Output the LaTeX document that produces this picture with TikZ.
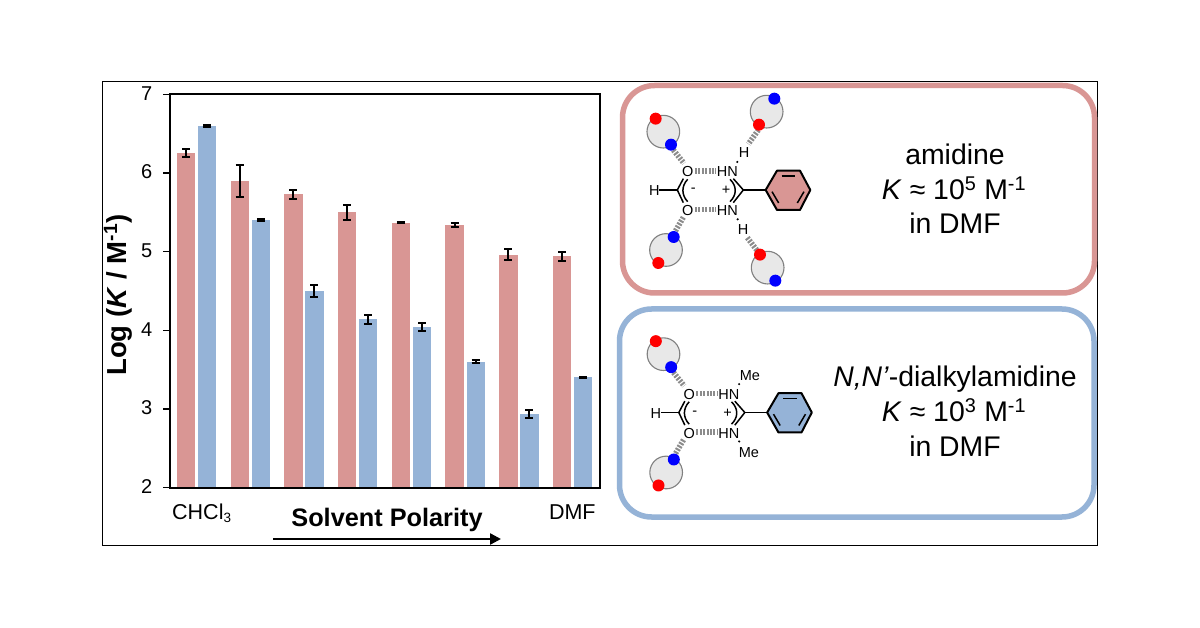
\documentclass[tikz,border=0pt]{standalone}
\usepackage{fontspec}
\setmainfont{Liberation Sans}
\usetikzlibrary{arrows.meta}
\definecolor{barred}{HTML}{D99694}
\definecolor{barblue}{HTML}{95B3D7}
\definecolor{ringgray}{HTML}{E8E8E8}
\definecolor{ringedge}{HTML}{808080}
\definecolor{hashgray}{HTML}{8C8C8C}
\tikzset{
  axisline/.style={black,line width=2pt},
  tickline/.style={black,line width=1.2pt},
  errbar/.style={black,line width=2pt},
  redbar/.style={fill=barred,draw=none},
  bluebar/.style={fill=barblue,draw=none},
  ticklabel/.style={font=\fontsize{20}{20}\selectfont,anchor=east,inner sep=0pt},
  panelbox/.style={line width=5.5pt,rounded corners=32pt,fill=white},
  paneltext/.style={font=\fontsize{28.4}{30}\selectfont,inner sep=0pt,anchor=base},
  atom/.style={font=\fontsize{14.5}{14.5}\selectfont,inner sep=0pt},
  hashbond/.style={hashgray,line width=5.5pt,dash pattern=on 2pt off 1.4pt},
  skel/.style={black,line width=1.5pt},
  ring/.style={fill=ringgray,draw=ringedge,line width=1.1pt},
  reddot/.style={fill=red,draw=none},
  bluedot/.style={fill=blue,draw=none},
}
% x-left, value, err, style
\newcommand{\onebar}[4]{%
  \pgfmathsetmacro{\ytop}{487.5-78.6*(#2-2)}%
  \pgfmathsetmacro{\yup}{487.5-78.6*(#2+#3-2)}%
  \pgfmathsetmacro{\ydn}{487.5-78.6*(#2-#3-2)}%
  \pgfmathsetmacro{\xmid}{#1+9.2}%
  \fill[#4] (#1,\ytop) rectangle ({#1+18.4},487.5);
  \draw[errbar] (\xmid,\yup) -- (\xmid,\ydn);
  \draw[errbar] (\xmid-4,\yup) -- (\xmid+4,\yup);
  \draw[errbar] (\xmid-4,\ydn) -- (\xmid+4,\ydn);
}
% common core of a complex (zoom coordinates), #1 = ring colour
\newcommand{\core}[1]{%
  \draw[hashbond] (225,273) -- (288,273);
  \draw[hashbond] (225,388) -- (288,388);
  \node[atom] at (203,275) {O};
  \node[atom] at (203,392) {O};
  \node[atom] at (322,275) {HN};
  \node[atom] at (322,392) {HN};
  \node[atom] at (103,332) {H};
  \node[atom] at (220,332) {-};
  \node[atom] at (318,332) {+};
  \draw[skel] (118,330) -- (172,330);
  \draw[skel] (190,296) -- (172,330) -- (190,368);
  \draw[skel] (203,298) .. controls (184,318) and (184,345) .. (203,365);
  \draw[skel] (340,296) -- (370,330) -- (340,368);
  \draw[skel] (330,298) .. controls (351,318) and (351,345) .. (330,365);
  \draw[skel] (370,330) -- (437,330);
  \draw[black,line width=2pt,fill=#1,line join=round] (437,330) -- (471,272) -- (540,272) -- (571,330) -- (540,390) -- (471,390) -- cycle;
  \draw[black,line width=1.5pt] (485,288) -- (526,288);
  \draw[black,line width=1.5pt] (456,335) -- (476,369);
  \draw[black,line width=1.5pt] (552,335) -- (532,369);
}
% host ring: centre x, centre y, upper dot style, x offset of upper dot, lower dot style
\newcommand{\host}[5]{%
  \draw[ring] (#1,#2) circle[radius=49];
  \fill[#3] (#1+#4,#2-39) circle[radius=18];
  \fill[#5] (#1-#4,#2+39) circle[radius=18];
}
\begin{document}
\begin{tikzpicture}[x=1pt,y=-1pt]
\useasboundingbox (0,0) rectangle (1200,628);
\fill[white] (0,0) rectangle (1200,628);
\draw[black,line width=1pt] (102.5,82) rectangle (1097.5,545);
% bars
\onebar{177}{6.26}{.05}{redbar}
\onebar{197.8}{6.6}{.015}{bluebar}
\onebar{230.5}{5.9}{.2}{redbar}
\onebar{251.6}{5.4}{.01}{bluebar}
\onebar{284.2}{5.73}{.06}{redbar}
\onebar{305.2}{4.5}{.08}{bluebar}
\onebar{338}{5.5}{.1}{redbar}
\onebar{359}{4.14}{.06}{bluebar}
\onebar{391.7}{5.37}{.01}{redbar}
\onebar{412.8}{4.04}{.05}{bluebar}
\onebar{445.4}{5.34}{.03}{redbar}
\onebar{466.5}{3.6}{.02}{bluebar}
\onebar{499.2}{4.96}{.07}{redbar}
\onebar{520.2}{2.93}{.05}{bluebar}
\onebar{553}{4.94}{.06}{redbar}
\onebar{574}{3.4}{.01}{bluebar}
% axes
\draw[axisline] (170,94.5) rectangle (599.7,487.5);
\foreach \v/\yy in {7/94.5,6/173.1,5/251.7,4/330.3,3/408.9,2/487.5}{
  \draw[tickline] (163,\yy) -- (170,\yy);
  \node[ticklabel] (tick\v) at (152.5,\yy-1) {\v};
}
\node[font=\bfseries\fontsize{27.5}{27.5}\selectfont,rotate=90,inner sep=0pt] (ylab) at (118,295) {Log (\textit{K} / M\textsuperscript{-1})};
\node[font=\fontsize{21.5}{21.5}\selectfont,inner sep=0pt,anchor=base west] (chcl) at (172,519.5) {CHCl\raisebox{-3pt}{\fontsize{13.5}{13.5}\selectfont 3}};
\node[font=\fontsize{21.5}{21.5}\selectfont,inner sep=0pt,anchor=base] (dmf) at (572.3,519.5) {DMF};
\node[font=\bfseries\fontsize{25.3}{25.3}\selectfont,inner sep=0pt,anchor=base] (polar) at (387,526.5) {Solvent Polarity};
\coordinate (arrA) at (273,539);
\coordinate (arrB) at (501,539);
\draw[black,line width=2.4pt,-{Triangle[length=11pt,width=11pt]}] (arrA) -- (arrB);
% panels
\draw[barred,panelbox] (622.5,85.5) rectangle (1094.5,293);
\draw[barblue,panelbox] (619.5,309) rectangle (1094,517);
% top complex
\begin{scope}[shift={(620,80)},x=.3333pt,y=-.3333pt]
  \core{barred}
  \draw[hashbond] (160,210) -- (192,250);
  \draw[hashbond] (190,412) -- (165,455);
  \draw[hashbond] (415,150) -- (385,192);
  \draw[hashbond] (382,473) -- (410,510);
  \node[atom] at (372,218) {H};
  \node[atom] at (369,450) {H};
  \fill (352,246) circle[radius=3.5];
  \fill (353,418) circle[radius=3.5];
  \host{130}{155}{reddot}{-23}{bluedot}
  \host{440}{95}{bluedot}{23}{reddot}
  \host{138}{510}{bluedot}{23}{reddot}
  \host{443}{563}{reddot}{-23}{bluedot}
\end{scope}
% bottom complex
\begin{scope}[shift={(621.5,302.5)},x=.3333pt,y=-.3333pt]
  \core{barblue}
  \draw[hashbond] (156,210) -- (188,250);
  \draw[hashbond] (186,412) -- (161,455);
  \node[atom] at (385,219) {Me};
  \node[atom] at (382,451) {Me};
  \fill (353,245) circle[radius=3.5];
  \fill (353,417) circle[radius=3.5];
  \host{126}{155}{reddot}{-23}{bluedot}
  \host{134}{510}{bluedot}{23}{reddot}
\end{scope}
% captions
\node[paneltext] (a1) at (955,165) {amidine};
\node[paneltext] (a2) at (954,200) {\textit{K} ≈ 10\textsuperscript{5} M\textsuperscript{-1}};
\node[paneltext] (a3) at (955,234) {in DMF};
\node[paneltext] (b1) at (955,387) {\textit{N,N’}-dialkylamidine};
\node[paneltext] (b2) at (954,421.7) {\textit{K} ≈ 10\textsuperscript{3} M\textsuperscript{-1}};
\node[paneltext] (b3) at (955,456) {in DMF};
\end{tikzpicture}
\end{document}
